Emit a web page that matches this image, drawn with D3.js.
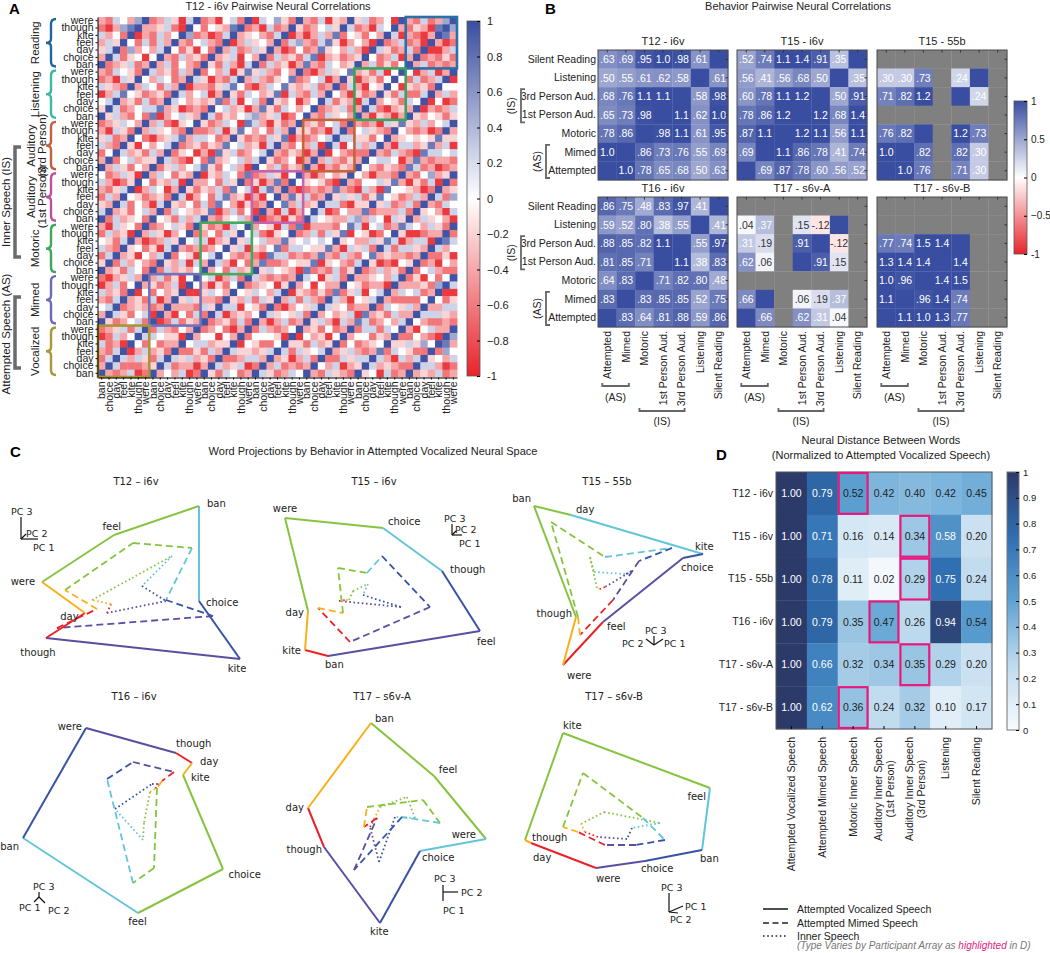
<html><head><title>Neural correlations across speech behaviors</title>
<meta charset="utf-8">
<style>
  body { margin: 0; background: #fff; }
  svg { display: block; font-family: 'Liberation Sans', Arial, sans-serif; }
</style>
</head>
<body>
<svg id="fig" width="1050" height="953"></svg>
<script src="https://d3js.org/d3.v7.min.js"></script>
<script>
const FONT = "'Liberation Sans', Arial, sans-serif";
const CFONT = "'DejaVu Sans', sans-serif";

// ---------------- Panel A data ----------------
const aWordsTop = ['were', 'though', 'kite', 'feel', 'day', 'choice', 'ban'];
const aWordsLeft = ['ban', 'choice', 'day', 'feel', 'kite', 'though', 'were'];
const aGroups = ['Reading', 'Listening', 'Auditory|(3rd Person)', 'Auditory|(1st Person)', 'Motoric', 'Mimed', 'Vocalized'];
// colour levels, one letter per cell
const aLevels = { R: -0.9, r: -0.62, p: -0.4, q: -0.2, w: 0.0, l: 0.25, v: 0.5, b: 0.75, B: 0.97 };
// upper-left triangle: row t (top to bottom) holds columns 0..48-t, the rest mirrors it
const aRows = [
  'prlwpvB rplqRlB rpRwlrB RlwvqrB prlRqpB qlrpwRB prlrpvB',
  'rRpvbBp pqlrRBw rwqpbBr pRlrpBq rpwlqBl rpRlwBp rqpRbB',
  'lpwrBRp rlpwBvr pRrlBpq wprlBRp Rplpbrw qrwpBlR prRpB',
  'plqBwrl rlpBprw lprBRpl qwpBrlv prlbqRp wpRBrpl rpRB',
  'qlBrvpw plBwrqR wrBplrp lqBpRrw rpbqwpl pRBlqrp lrB',
  'pBlrqwR wBprlpq rBpqlRw pBrlpqr lbRpqrp qBwrplR pB',
  'Brpqlrp Bplrwpr BqrlpRl BrlpqRp bprlwpq Bplrqrw B',
  'prlwqrB lpqrlpB rwplRqb qlprwpB rRplqwb pqrlRwB',
  'rpRlqBw plwrpBl qRprlBp lprqwbr pwlRpBq RpqrwB',
  'lqprBpl wrlpBRp prqlbwr Rplwbqp qlrpBrl pRwqB',
  'Rplbwqr pqrBlpw lRpBqrl wpqbRlp rlpBwpR qrpB',
  'wlBpqrl rpBlwpq pqbrlRw lrBqpwR pwBlrqp RlB',
  'qBlrpwl lbpqRrp rBwlpqR pbqrlwp wBrpqlr pB',
  'Bqlprwr bRpwlqp Blrqpwl vpqlRrw Bprlqwp B',
  'rpqlwpB plrRqwB qrplwRb lpRqrpB pqrwlrB',
  'pRlqrBp lqwprBr rplRqbw pwrlpBq qrpRlB',
  'qlrpBwr Rpqlbpl lwrpBqr prlqbRp rpwlB',
  'lprBqRw pwlBrpq rqpbwlp qRlBprw plRB',
  'rwBlpqr lpBrqwR pRbqlrp wlBprqp RpB',
  'pBrwlpq qBlprRw rbpqwlp lBqrpwR pB',
  'Bplqrwp Brqlpwl bqrwlpR Bwplrqp B',
  'wrplqRB plwrqpB Rqplwrb rplqRwB',
  'lpRrqBw rqplRBp pwrlqBr qRpbrB',
  'prqlBRp lwRpBqr qplrbwl RlbpB',
  'rlpBwqr pqrBlRp wrlbpqR pRwB',
  'qpBlrwp RlBqpwr lrbwpRq rpB',
  'lBpqrwl pBrlwqp qbRplrw RB',
  'Brlpqwr Bwqrlpl Bprqwlp B',
  'pRlqwrB rpwlqrB qrpRlwB',
  'rlpqRBp lqRpwBr pwrlqB',
  'wqrlBpR rplqBwl lRpqB',
  'lprBqwr qRlBprp rpwB',
  'rlBpqRw plBrwqR wlB',
  'qBrlpwp rBqplRl pB',
  'Bpqrlwr Brlpqpw B',
  'rRpqlpB plrqRwB',
  'RplrwBp qrplRB',
  'lpqrBRw rwpqB',
  'prlBpqr lRpB',
  'wlBrpqp rpB',
  'pBlqrwl RB',
  'Bqrpwlr B',
  'rpqlrlB',
  'RrlpwB',
  'lrpRB',
  'prlB',
  'rlB',
  'pB',
  'B'
];

// ---------------- Panel B data ----------------
const bRows = ['Silent Reading', 'Listening', '3rd Person Aud.', '1st Person Aud.', 'Motoric', 'Mimed', 'Attempted'];
const bCols = ['Attempted', 'Mimed', 'Motoric', '1st Person Aud.', '3rd Person Aud.', 'Listening', 'Silent Reading'];
const N = NaN;
const bT12i6v = [
  [.63, .69, .95, 1.0, .98, .61, 1],
  [.50, .55, .61, .62, .58, 1, .61],
  [.68, .76, 1.1, 1.1, 1, .58, .98],
  [.65, .73, .98, 1, 1.1, .62, 1.0],
  [.78, .86, 1, .98, 1.1, .61, .95],
  [1.0, 1, .86, .73, .76, .55, .69],
  [1, 1.0, .78, .65, .68, .50, .63]
];
const bT15i6v = [
  [.52, .74, 1.1, 1.4, .91, .35, 1],
  [.56, .41, .56, .68, .50, 1, .35],
  [.60, .78, 1.1, 1.2, 1, .50, .91],
  [.78, .86, 1.2, 1, 1.2, .68, 1.4],
  [.87, 1.1, 1, 1.2, 1.1, .56, 1.1],
  [.69, 1, 1.1, .86, .78, .41, .74],
  [1, .69, .87, .78, .60, .56, .52]
];
const bT1555b = [
  [N, N, N, N, N, N, N],
  [.30, .30, .73, N, .24, 1, N],
  [.71, .82, 1.2, N, 1, .24, N],
  [N, N, N, N, N, N, N],
  [.76, .82, 1, N, 1.2, .73, N],
  [1.0, 1, .82, N, .82, .30, N],
  [1, 1.0, .76, N, .71, .30, N]
];
const bT16i6v = [
  [.86, .75, .48, .83, .97, .41, 1],
  [.59, .52, .80, .38, .55, 1, .41],
  [.88, .85, .82, 1.1, 1, .55, .97],
  [.81, .85, .71, 1, 1.1, .38, .83],
  [.64, .83, 1, .71, .82, .80, .48],
  [.83, 1, .83, .85, .85, .52, .75],
  [1, .83, .64, .81, .88, .59, .86]
];
const bT17s6vA = [
  [N, N, N, N, N, N, N],
  [.04, .37, N, .15, -.12, 1, N],
  [.31, .19, N, .91, 1, -.12, N],
  [.62, .06, N, 1, .91, .15, N],
  [N, N, N, N, N, N, N],
  [.66, 1, N, .06, .19, .37, N],
  [1, .66, N, .62, .31, .04, N]
];
const bT17s6vB = [
  [N, N, N, N, N, N, N],
  [N, N, N, N, N, N, N],
  [.77, .74, 1.5, 1.4, 1, N, N],
  [1.3, 1.4, 1.4, 1, 1.4, N, N],
  [1.0, .96, 1, 1.4, 1.5, N, N],
  [1.1, 1, .96, 1.4, .74, N, N],
  [1, 1.1, 1.0, 1.3, .77, N, N]
];

// ---------------- Panel C data ----------------
const cTitles = ['T12 – i6v', 'T15 – i6v', 'T15 – 55b', 'T16 – i6v', 'T17 – s6v-A', 'T17 – s6v-B'];
// word order around each polygon (segment colours follow this order)
const cOrder = [
  ['were', 'feel', 'ban', 'choice', 'kite', 'though', 'day'],
  ['day', 'were', 'choice', 'though', 'feel', 'ban', 'kite'],
  ['though', 'ban', 'day', 'kite', 'choice', 'feel', 'were'],
  ['kite', 'choice', 'feel', 'ban', 'were', 'though', 'day'],
  ['ban', 'feel', 'were', 'choice', 'kite', 'though', 'day'],
  ['though', 'kite', 'feel', 'ban', 'choice', 'were', 'day']
];
// projected positions (PC plane, arbitrary units, y down)
const cVocal = [
  [[0.42, 0.92], [1.14, 0.45], [1.99, 0.16], [1.99, 1.11], [2.40, 1.69], [0.46, 1.48], [0.85, 1.23]],
  [[0.75, 1.21], [0.52, 0.28], [1.50, 0.38], [2.09, 0.81], [2.47, 1.41], [0.95, 1.66], [0.72, 1.60]],
  [[1.10, 1.27], [0.68, 0.16], [1.05, 0.25], [2.37, 0.64], [2.17, 0.68], [1.37, 1.32], [0.97, 1.75]],
  [[1.83, 0.70], [2.23, 1.64], [1.38, 2.08], [0.23, 1.33], [0.86, 0.23], [1.76, 0.48], [1.92, 0.58]],
  [[1.38, 0.18], [2.01, 0.71], [2.53, 1.34], [1.87, 1.46], [1.47, 2.18], [0.91, 1.42], [0.75, 1.03]],
  [[0.59, 1.35], [0.97, 0.28], [2.44, 0.83], [2.36, 1.45], [1.79, 1.56], [1.30, 1.63], [0.65, 1.38]]
];
const cMimed = [
  [[0.65, 1.00], [1.33, 0.53], [1.92, 0.58], [1.66, 1.10], [2.13, 1.26], [0.57, 1.38], [0.97, 1.19]],
  [[1.10, 1.23], [1.05, 0.78], [1.34, 0.83], [1.49, 0.66], [1.97, 1.17], [1.17, 1.52], [0.85, 1.18]],
  [[1.12, 1.27], [0.85, 0.32], [1.39, 0.67], [2.06, 0.58], [1.73, 0.71], [1.47, 1.10], [1.14, 1.45]],
  [[1.57, 0.83], [1.54, 1.63], [1.33, 1.78], [1.07, 0.74], [1.33, 0.57], [1.74, 0.67], [1.62, 0.76]],
  [[1.34, 1.02], [1.90, 0.95], [2.07, 1.18], [1.69, 1.12], [1.21, 1.65], [1.44, 1.13], [1.31, 1.22]],
  [[0.97, 1.22], [1.17, 0.68], [1.77, 1.13], [1.99, 1.35], [1.70, 1.40], [1.39, 1.40], [1.12, 1.27]]
];
const cInner = [
  [[0.92, 1.10], [1.32, 0.88], [1.72, 0.66], [1.42, 0.96], [1.66, 1.11], [1.07, 1.23], [1.11, 1.14]],
  [[1.16, 1.10], [1.20, 1.01], [1.35, 0.94], [1.30, 1.05], [1.68, 1.17], [1.06, 1.11], [1.13, 1.10]],
  [[1.31, 0.98], [1.24, 0.67], [1.28, 0.82], [1.60, 0.84], [1.66, 0.81], [1.39, 0.97], [1.34, 0.99]],
  [[1.50, 0.87], [1.44, 1.18], [1.43, 1.35], [1.15, 1.04], [1.52, 0.79], [1.59, 0.79], [1.55, 0.84]],
  [[1.47, 1.02], [1.74, 0.92], [1.82, 1.13], [1.62, 1.12], [1.46, 1.57], [1.37, 1.22], [1.41, 1.14]],
  [[1.15, 1.19], [1.38, 1.07], [1.94, 1.18], [1.66, 1.23], [1.61, 1.34], [1.32, 1.32], [1.19, 1.27]]
];

// ---------------- Panel D data ----------------
const dRows = ['T12 - i6v', 'T15 - i6v', 'T15 - 55b', 'T16 - i6v', 'T17 - s6v-A', 'T17 - s6v-B'];
const dCols = ['Attempted Vocalized Speech', 'Attempted Mimed Speech', 'Motoric Inner Speech',
  'Auditory Inner Speech|(1st Person)', 'Auditory Inner Speech|(3rd Person)', 'Listening', 'Silent Reading'];
const dVals = [
  [1.00, 0.79, 0.52, 0.42, 0.40, 0.42, 0.45],
  [1.00, 0.71, 0.16, 0.14, 0.34, 0.58, 0.20],
  [1.00, 0.78, 0.11, 0.02, 0.29, 0.75, 0.24],
  [1.00, 0.79, 0.35, 0.47, 0.26, 0.94, 0.54],
  [1.00, 0.66, 0.32, 0.34, 0.35, 0.29, 0.20],
  [1.00, 0.62, 0.36, 0.24, 0.32, 0.10, 0.17]
];
const dHighlight = [2, 4, 4, 3, 4, 2];

// ======================================================
const svg = d3.select('#fig');
const defs = svg.append('defs');
const corrColor = d3.scaleLinear().domain([-1, 0, 1]).range(['#e8232a', '#ffffff', '#3a4ea1']).clamp(true);
const distColor = d3.scaleLinear().domain([0, 0.25, 0.5, 0.75, 1])
  .range(['#f7fbfe', '#c0dbee', '#5fa3d3', '#2f6fb2', '#2c3a69']).clamp(true);

function gradient(id, color, lo, hi) {
  const gr = defs.append('linearGradient').attr('id', id).attr('x1', 0).attr('x2', 0).attr('y1', 1).attr('y2', 0);
  d3.range(0, 1.0001, 0.05).forEach(f => gr.append('stop').attr('offset', f).attr('stop-color', color(lo + (hi - lo) * f)));
}
gradient('gCorr', corrColor, -1, 1);
gradient('gDist', distColor, 0, 1);

function tidyAxis(g, size) {
  g.attr('font-family', FONT).attr('font-size', size);
  g.selectAll('text').attr('fill', '#222');
}
function panelLetter(x, y, s) {
  svg.append('text').attr('x', x).attr('y', y).attr('font-size', 15).attr('font-weight', 'bold').text(s);
}
function plainText(x, y, s, size, anchor) {
  return svg.append('text').attr('x', x).attr('y', y).attr('font-size', size || 11)
    .attr('text-anchor', anchor || 'middle').attr('fill', '#222').text(s);
}

// ---------------- Panel A ----------------
const aGroupColors = ['#21679f', '#3cb9a3', '#c65f3d', '#c04f9d', '#3fa65a', '#6b6cb6', '#ab9638'];
const aBoxColors = ['#2a6fa5', '#3aa45e', '#c4643f', '#c464aa', '#46a95c', '#7073b9', '#a99538'];
const aClean = aRows.map(r => r.replace(/ /g, ''));
const aCells = [];
d3.range(49).forEach(t => d3.range(49).forEach(c => {
  const ch = c <= 48 - t ? aClean[t][c] : aClean[48 - c][48 - t];
  aCells.push({ t, c, v: aLevels[ch] });
}));

const aX = d3.scaleBand().domain(d3.range(49)).range([98, 457]);
const aY = d3.scaleBand().domain(d3.range(49)).range([17, 377]);
const gA = svg.append('g');
gA.append('g').selectAll('rect').data(aCells).join('rect')
  .attr('x', d => aX(d.c)).attr('y', d => aY(d.t))
  .attr('width', aX.bandwidth() + 0.4).attr('height', aY.bandwidth() + 0.4)
  .attr('fill', d => corrColor(d.v));

aGroups.forEach((name, i) => {
  gA.append('rect').attr('x', aX(7 * (6 - i))).attr('y', aY(7 * i))
    .attr('width', 7 * aX.step()).attr('height', 7 * aY.step())
    .attr('fill', 'none').attr('stroke', aBoxColors[i]).attr('stroke-width', 2.6);
});

const aAxL = gA.append('g').attr('transform', 'translate(97.5,0)')
  .call(d3.axisLeft(aY).tickSize(2).tickSizeOuter(0).tickPadding(2).tickFormat(t => aWordsTop[t % 7]));
tidyAxis(aAxL, 10.5);
const aAxB = gA.append('g').attr('transform', 'translate(0,377.5)')
  .call(d3.axisBottom(aX).tickSize(2).tickSizeOuter(0).tickFormat(c => aWordsLeft[c % 7]));
tidyAxis(aAxB, 10.5);
aAxB.selectAll('text').attr('transform', 'rotate(-90)').attr('text-anchor', 'end')
  .attr('x', -4).attr('y', 0).attr('dy', '0.35em');

// curly braces + group names
function brace(g, x, y0, y1, color) {
  const ym = (y0 + y1) / 2, w = 5;
  const d = `M${x + w},${y0} Q${x},${y0} ${x},${y0 + 5} L${x},${ym - 4} Q${x},${ym} ${x - w},${ym} ` +
    `Q${x},${ym} ${x},${ym + 4} L${x},${y1 - 5} Q${x},${y1} ${x + w},${y1}`;
  g.append('path').attr('d', d).attr('fill', 'none').attr('stroke', color).attr('stroke-width', 2.4);
}
aGroups.forEach((name, i) => {
  const y0 = aY(7 * i) + 2, y1 = aY(7 * i + 6) + aY.bandwidth() - 2, ym = (y0 + y1) / 2;
  brace(gA, 51, y0, y1, aGroupColors[i]);
  const lines = name.split('|');
  lines.forEach((ln, k) => {
    const x = lines.length === 1 ? 39 : 35 + k * 11;
    gA.append('text').attr('transform', `translate(${x},${ym}) rotate(-90)`)
      .attr('text-anchor', 'middle').attr('font-size', 11.5).attr('fill', '#222').text(ln);
  });
});
function sideBracket(g, x, y0, y1, len, color, w) {
  g.append('path').attr('d', `M${x + len},${y0} H${x} V${y1} H${x + len}`)
    .attr('fill', 'none').attr('stroke', color).attr('stroke-width', w);
}
sideBracket(gA, 15, 147, 257, 6, '#6b6b6b', 3.5);
sideBracket(gA, 15, 297, 368, 6, '#6b6b6b', 3.5);
gA.append('text').attr('transform', 'translate(10,202) rotate(-90)').attr('text-anchor', 'middle')
  .attr('font-size', 11.5).attr('fill', '#222').text('Inner Speech (IS)');
gA.append('text').attr('transform', 'translate(10,334) rotate(-90)').attr('text-anchor', 'middle')
  .attr('font-size', 11.5).attr('fill', '#222').text('Attempted Speech (AS)');

// colour bar
const aCb = d3.scaleLinear().domain([-1, 1]).range([376, 21]);
gA.append('rect').attr('x', 467).attr('y', 21).attr('width', 13).attr('height', 355)
  .attr('fill', 'url(#gCorr)').attr('stroke', '#555').attr('stroke-width', 0.8);
const fmtCb = v => Math.abs(v) < 1e-9 ? '0' : Math.abs(Math.abs(v) - 1) < 1e-9 ? String(Math.round(v)) : d3.format('.1f')(v);
const aCbAx = gA.append('g').attr('transform', 'translate(480,0)')
  .call(d3.axisRight(aCb).tickValues(d3.range(-1, 1.001, 0.2)).tickSize(-3).tickPadding(7).tickFormat(fmtCb));
aCbAx.select('.domain').remove();
tidyAxis(aCbAx, 11);

panelLetter(9, 14, 'A');
plainText(278, 10, 'T12 - i6v Pairwise Neural Correlations', 11);

// ---------------- Panel B ----------------
const bLayout = [
  { name: 'T12 - i6v', vals: bT12i6v, x: 598, y: 50, rowAxis: true },
  { name: 'T15 - i6v', vals: bT15i6v, x: 737, y: 50 },
  { name: 'T15 - 55b', vals: bT1555b, x: 877, y: 50 },
  { name: 'T16 - i6v', vals: bT16i6v, x: 598, y: 197, rowAxis: true, colAxis: true },
  { name: 'T17 - s6v-A', vals: bT17s6vA, x: 737, y: 197, colAxis: true },
  { name: 'T17 - s6v-B', vals: bT17s6vB, x: 877, y: 197, colAxis: true }
];
const fmtB = v => Math.abs(v) >= 0.995 ? v.toFixed(1) : v.toFixed(2).replace('0.', '.');

bLayout.forEach(p => {
  const xs = d3.scaleBand().domain(bCols).range([p.x, p.x + 130]);
  const ys = d3.scaleBand().domain(bRows).range([p.y, p.y + 130]);
  const g = svg.append('g');
  const cells = p.vals.flatMap((row, i) => row.map((v, j) => ({ i, j, v })));
  g.selectAll('rect.cell').data(cells).join('rect').attr('class', 'cell')
    .attr('x', d => xs(bCols[d.j])).attr('y', d => ys(bRows[d.i]))
    .attr('width', xs.bandwidth() + 0.3).attr('height', ys.bandwidth() + 0.3)
    .attr('fill', d => isNaN(d.v) ? '#808080' : corrColor(d.v));
  g.selectAll('text.val').data(cells.filter(d => !isNaN(d.v) && d.i + d.j !== 6)).join('text').attr('class', 'val')
    .attr('x', d => xs(bCols[d.j]) + xs.bandwidth() / 2).attr('y', d => ys(bRows[d.i]) + ys.bandwidth() / 2)
    .attr('dy', '0.35em').attr('text-anchor', 'middle').attr('font-size', 10.5)
    .attr('fill', d => d.v < 0.2 ? '#333' : '#fff').text(d => fmtB(d.v));
  g.append('rect').attr('x', p.x).attr('y', p.y).attr('width', 130).attr('height', 130)
    .attr('fill', 'none').attr('stroke', '#4a4a4a').attr('stroke-width', 1);
  // inner tick marks on top and right edges
  bCols.forEach(c => g.append('line').attr('x1', xs(c) + xs.bandwidth() / 2).attr('x2', xs(c) + xs.bandwidth() / 2)
    .attr('y1', p.y).attr('y2', p.y + 2.5).attr('stroke', '#333'));
  bRows.forEach(r => g.append('line').attr('y1', ys(r) + ys.bandwidth() / 2).attr('y2', ys(r) + ys.bandwidth() / 2)
    .attr('x1', p.x + 130).attr('x2', p.x + 127.5).attr('stroke', '#333'));
  g.append('text').attr('x', p.x + 65).attr('y', p.y - 5).attr('text-anchor', 'middle')
    .attr('font-size', 11).attr('fill', '#222').text(p.name);

  if (p.rowAxis) {
    const ax = g.append('g').attr('transform', `translate(${p.x},0)`)
      .call(d3.axisLeft(ys).tickSize(0).tickPadding(2));
    ax.select('.domain').remove();
    tidyAxis(ax, 10.5);
    const isTop = ys('3rd Person Aud.') + 2, isBot = ys('1st Person Aud.') + ys.bandwidth() - 2;
    sideBracket(g, 521, isTop, isBot, 4, '#666', 1.8);
    g.append('text').attr('transform', `translate(515,${(isTop + isBot) / 2}) rotate(-90)`)
      .attr('text-anchor', 'middle').attr('font-size', 10.5).attr('fill', '#222').text('(IS)');
    const asTop = ys('Mimed') + 2, asBot = ys('Attempted') + ys.bandwidth() - 2;
    sideBracket(g, 546, asTop, asBot, 4, '#666', 1.8);
    g.append('text').attr('transform', `translate(541,${(asTop + asBot) / 2}) rotate(-90)`)
      .attr('text-anchor', 'middle').attr('font-size', 10.5).attr('fill', '#222').text('(AS)');
  }
  if (p.colAxis) {
    const ax = g.append('g').attr('transform', `translate(0,${p.y + 130})`)
      .call(d3.axisBottom(xs).tickSize(0));
    ax.select('.domain').remove();
    tidyAxis(ax, 10.5);
    ax.selectAll('text').attr('transform', 'rotate(-90)').attr('text-anchor', 'end')
      .attr('x', -4).attr('y', 0).attr('dy', '0.35em');
    const cx = c => xs(c) + xs.bandwidth() / 2;
    [[['Attempted', 'Mimed'], 386, 401, '(AS)'], [['Motoric', '3rd Person Aud.'], 411, 425, '(IS)']]
      .forEach(([cs, by, ty, lab]) => {
        const x0 = cx(cs[0]) - 5, x1 = cx(cs[1]) + 3;
        g.append('path').attr('d', `M${x0},${by - 3} V${by} H${x1} V${by - 3}`)
          .attr('fill', 'none').attr('stroke', '#666').attr('stroke-width', 1.8);
        g.append('text').attr('x', (x0 + x1) / 2).attr('y', ty).attr('text-anchor', 'middle')
          .attr('font-size', 10.5).attr('fill', '#222').text(lab);
      });
  }
});
const bCb = d3.scaleLinear().domain([-1, 1]).range([254, 101]);
svg.append('rect').attr('x', 1014).attr('y', 101).attr('width', 13).attr('height', 153)
  .attr('fill', 'url(#gCorr)').attr('stroke', '#555').attr('stroke-width', 0.8);
const bCbAx = svg.append('g').attr('transform', 'translate(1027,0)')
  .call(d3.axisRight(bCb).tickValues([-1, -0.5, 0, 0.5, 1]).tickSize(-3).tickPadding(4).tickFormat(fmtCb));
bCbAx.select('.domain').remove();
tidyAxis(bCbAx, 10);
panelLetter(545, 14, 'B');
plainText(798, 10, 'Behavior Pairwise Neural Correlations', 11);

// ---------------- Panel C ----------------
const segColors = ['#86c440', '#86c440', '#62c6d8', '#3953a4', '#5a4ea1', '#ec2127', '#f9b01a'];
const cFrames = [[0, 490], [233, 490], [466, 490], [0, 705], [233, 705], [466, 705]];
const cTitleX = [[136, 485], [374, 485], [607, 485], [134, 700], [382, 700], [614, 700]];
const cLabelNudge = {
  '0:ban': [8, 1, 'start'], '0:though': [-8, 18, 'middle'], '0:kite': [-3, 13, 'middle'],
  '1:were': [0, -6, 'middle'], '1:choice': [5, -3, 'start'], '1:though': [8, 2, 'start'],
  '1:feel': [-3, 14, 'start'], '1:ban': [-3, 12, 'start'], '1:kite': [-4, 4, 'end'], '1:day': [-4, 5, 'end'],
  '2:ban': [-3, -4, 'end'], '2:day': [5, -2, 'start'], '2:kite': [-8, -4, 'start'], '2:choice': [-2, 13, 'start'],
  '2:feel': [4, 8, 'start'], '2:were': [4, 14, 'start'], '2:though': [-4, 0, 'end'],
  '3:though': [0, -6, 'start'], '3:day': [8, 2, 'start'], '3:kite': [8, 6, 'start'],
  '3:were': [-4, 2, 'end'], '3:ban': [-4, 12, 'end'],
  '4:ban': [4, -1, 'start'], '4:were': [-10, -1, 'end'], '4:choice': [2, 10, 'start'],
  '4:though': [-2, 6, 'end'], '4:day': [-4, 3, 'end'],
  '5:kite': [0, -4, 'start'], '5:feel': [-4, 12, 'end'], '5:ban': [-2, 12, 'start'], '5:choice': [-4, 11, 'start'],
  '5:were': [0, 14, 'start'], '5:day': [2, 18, 'start'], '5:though': [7, 1, 'start']
};
const cAxisGlyphs = [
  { lines: [[21, 517, 21, 539], [21, 539, 38, 539], [21, 539, 26, 534]], labels: [['PC 3', 11, 515], ['PC 2', 26, 537], ['PC 1', 33, 551]] },
  { lines: [[452, 524, 452, 535], [452, 535, 462, 535], [452, 535, 456, 531]], labels: [['PC 3', 444, 522], ['PC 2', 455, 533], ['PC 1', 459, 547]] },
  { lines: [[654, 636, 654, 645], [654, 645, 646, 639], [654, 645, 663, 639]], labels: [['PC 3', 645, 634], ['PC 2', 622, 647], ['PC 1', 664, 647]] },
  { lines: [[39, 892, 39, 897], [39, 897, 34, 902], [39, 897, 45, 903]], labels: [['PC 3', 33, 890], ['PC 1', 19, 911], ['PC 2', 48, 914]] },
  { lines: [[443, 885, 443, 901], [443, 892, 458, 892]], labels: [['PC 3', 434, 882], ['PC 2', 461, 896], ['PC 1', 443, 914]] },
  { lines: [[669, 893, 669, 912], [669, 912, 683, 906], [669, 912, 678, 913]], labels: [['PC 3', 661, 891], ['PC 1', 685, 910], ['PC 2', 670, 923]] }
];

cTitles.forEach((title, k) => {
  const [ox, oy] = cFrames[k];
  const sx = d3.scaleLinear().domain([0, 1]).range([ox, ox + 100]);
  const sy = d3.scaleLinear().domain([0, 1]).range([oy, oy + 100]);
  const g = svg.append('g').attr('font-family', CFONT);
  [[cInner[k], '1.6,2.6', 1.8], [cMimed[k], '7,4', 1.8], [cVocal[k], null, 2]].forEach(([pts, dash, w]) => {
    pts.forEach((p, i) => {
      const q = pts[(i + 1) % pts.length];
      g.append('line').attr('x1', sx(p[0])).attr('y1', sy(p[1])).attr('x2', sx(q[0])).attr('y2', sy(q[1]))
        .attr('stroke', segColors[i]).attr('stroke-width', w).attr('stroke-dasharray', dash);
    });
  });
  const cx = d3.mean(cVocal[k], p => sx(p[0])), cy = d3.mean(cVocal[k], p => sy(p[1]));
  cVocal[k].forEach((p, i) => {
    const word = cOrder[k][i], vx = sx(p[0]), vy = sy(p[1]);
    let nud = cLabelNudge[`${k}:${word}`];
    if (!nud) {
      const dx = vx - cx, dy = vy - cy, n = Math.hypot(dx, dy) || 1;
      const ux = dx / n, uy = dy / n;
      nud = [ux * 7, uy * 9 + 3.5, ux > 0.4 ? 'start' : ux < -0.4 ? 'end' : 'middle'];
    }
    g.append('text').attr('x', vx + nud[0]).attr('y', vy + nud[1]).attr('text-anchor', nud[2])
      .attr('font-size', 10).attr('fill', '#222').text(word);
  });
  g.append('text').attr('x', cTitleX[k][0]).attr('y', cTitleX[k][1]).attr('text-anchor', 'middle')
    .attr('font-size', 10).attr('fill', '#222').text(title);
  const glyph = cAxisGlyphs[k];
  glyph.lines.forEach(l => g.append('line').attr('x1', l[0]).attr('y1', l[1]).attr('x2', l[2]).attr('y2', l[3])
    .attr('stroke', '#111').attr('stroke-width', 1.2));
  glyph.labels.forEach(l => g.append('text').attr('x', l[1]).attr('y', l[2]).attr('font-size', 9.5)
    .attr('fill', '#222').text(l[0]));
});
panelLetter(10, 457, 'C');
plainText(373, 455, 'Word Projections by Behavior in Attempted Vocalized Neural Space', 11);

// ---------------- Panel D ----------------
const dX = d3.scaleBand().domain(d3.range(7)).range([776, 992]);
const dY = d3.scaleBand().domain(dRows).range([472, 729]);
const gD = svg.append('g');
const dCells = dVals.flatMap((row, i) => row.map((v, j) => ({ i, j, v })));
gD.selectAll('rect.cell').data(dCells).join('rect').attr('class', 'cell')
  .attr('x', d => dX(d.j)).attr('y', d => dY(dRows[d.i]))
  .attr('width', dX.bandwidth() + 0.3).attr('height', dY.bandwidth() + 0.3)
  .attr('fill', d => distColor(d.v));
gD.selectAll('text.val').data(dCells).join('text').attr('class', 'val')
  .attr('x', d => dX(d.j) + dX.bandwidth() / 2).attr('y', d => dY(dRows[d.i]) + dY.bandwidth() / 2)
  .attr('dy', '0.35em').attr('text-anchor', 'middle').attr('font-size', 10.5)
  .attr('fill', d => d.v >= 0.55 ? '#fff' : '#222').text(d => d.v.toFixed(2));
gD.append('rect').attr('x', 776).attr('y', 472).attr('width', 216).attr('height', 257)
  .attr('fill', 'none').attr('stroke', '#555').attr('stroke-width', 1);
dHighlight.forEach((j, i) => {
  gD.append('rect').attr('x', dX(j) + 1).attr('y', dY(dRows[i]) + 1)
    .attr('width', dX.bandwidth() - 2).attr('height', dY.bandwidth() - 2)
    .attr('fill', 'none').attr('stroke', '#e8197d').attr('stroke-width', 2.2);
});
const dAxL = gD.append('g').attr('transform', 'translate(776,0)')
  .call(d3.axisLeft(dY).tickSize(0).tickPadding(3));
dAxL.select('.domain').remove();
tidyAxis(dAxL, 10.5);
const dAxB = gD.append('g').attr('transform', 'translate(0,729)')
  .call(d3.axisBottom(dX).tickSize(-3).tickSizeOuter(0).tickFormat(j => dCols[j].split('|')[0]));
dAxB.select('.domain').remove();
tidyAxis(dAxB, 10.5);
dAxB.selectAll('text').attr('transform', 'rotate(-90)').attr('text-anchor', 'end')
  .attr('x', -8).attr('y', 0).attr('dy', '0.35em');
dAxB.selectAll('.tick').each(function (j) {
  const parts = dCols[j].split('|');
  if (parts.length < 2) return;
  const first = d3.select(this).select('text');
  first.attr('dy', '-0.2em');
  const len = first.node().getComputedTextLength();
  d3.select(this).append('text').attr('transform', 'rotate(-90)').attr('text-anchor', 'middle')
    .attr('x', -8 - len / 2).attr('y', 0).attr('dy', '0.95em').attr('fill', '#222').text(parts[1]);
});
const dCb = d3.scaleLinear().domain([0, 1]).range([730, 472]);
gD.append('rect').attr('x', 1007).attr('y', 472).attr('width', 12).attr('height', 258)
  .attr('fill', 'url(#gDist)').attr('stroke', '#777').attr('stroke-width', 1);
const dCbAx = gD.append('g').attr('transform', 'translate(1019,0)')
  .call(d3.axisRight(dCb).tickValues(d3.range(0, 1.001, 0.1)).tickSize(-3).tickPadding(4).tickFormat(fmtCb));
dCbAx.select('.domain').remove();
tidyAxis(dCbAx, 9.5);
panelLetter(716, 460, 'D');
plainText(881, 444, 'Neural Distance Between Words', 11);
plainText(881, 459, '(Normalized to Attempted Vocalized Speech)', 11);

// legend
const legend = svg.append('g').attr('font-size', 10.5).attr('fill', '#222');
[['Attempted Vocalized Speech', null, 909], ['Attempted Mimed Speech', '6,3.5', 923], ['Inner Speech', '1.6,2.6', 936]]
  .forEach(([txt, dash, y]) => {
    legend.append('line').attr('x1', 763).attr('x2', 788).attr('y1', y).attr('y2', y)
      .attr('stroke', '#222').attr('stroke-width', 1.6).attr('stroke-dasharray', dash);
    legend.append('text').attr('x', 797).attr('y', y + 3.5).text(txt);
  });
const note = legend.append('text').attr('x', 797).attr('y', 949).attr('font-style', 'italic')
  .attr('font-size', 10).attr('fill', '#777');
note.append('tspan').text('(Type Varies by Participant Array as ');
note.append('tspan').attr('fill', '#e8197d').text('highlighted');
note.append('tspan').text(' in D)');
</script>
</body></html>
